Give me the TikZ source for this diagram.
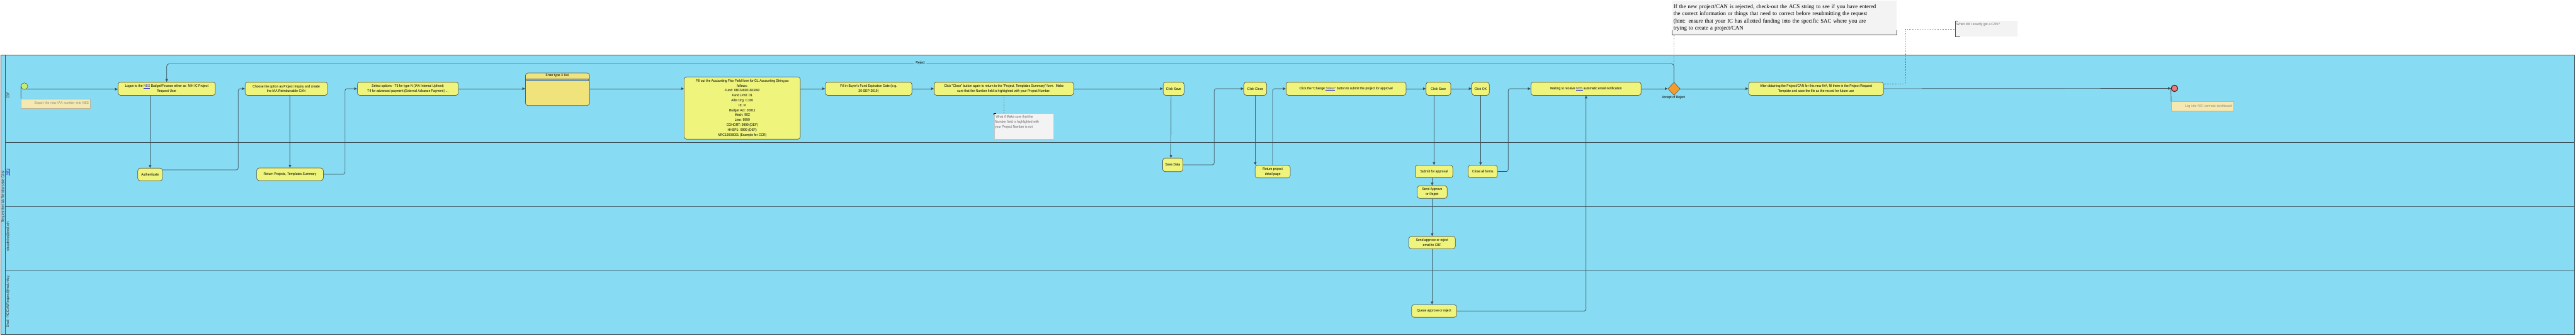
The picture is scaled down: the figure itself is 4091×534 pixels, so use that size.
\documentclass[tikz,border=0pt]{standalone}
\usepackage{fontspec}
\setmainfont{Liberation Sans}
\newfontfamily\tfam[FakeStretch=0.87]{Liberation Sans}
\newfontfamily\nfam[FakeStretch=0.96]{Liberation Serif}
\usetikzlibrary{arrows.meta,shapes.geometric,calc}
\definecolor{lanec}{HTML}{87DBF2}
\definecolor{taskc}{HTML}{EEF47C}
\definecolor{task2c}{HTML}{F1E37C}
\definecolor{bordc}{HTML}{55584A}
\definecolor{linec}{HTML}{3A4F5A}
\definecolor{gwc}{HTML}{F89B2E}
\definecolor{startc}{HTML}{C4EE72}
\definecolor{endc}{HTML}{F07A78}
\definecolor{notec}{HTML}{F5E8B0}
\definecolor{grayn}{HTML}{F3F3F3}
\definecolor{linkc}{HTML}{3333CC}
\definecolor{barc}{HTML}{7DB4C4}
\newcommand\tf{\tfam\fontsize{5.8}{7.8}\selectfont}
\newcommand\nf{\nfam\fontsize{9.2}{11.4}\selectfont}
\newcommand\lk[1]{\textcolor{linkc}{\underline{#1}}}
\tikzset{
  task/.style={draw=bordc, fill=taskc, rounded corners=4pt, line width=0.7pt, inner sep=0pt, align=center, font=\tf, text=black},
  arr/.style={draw=linec, line width=0.7pt, -{Triangle[length=4.5pt,width=4pt]}},
  ln/.style={draw=linec, line width=0.7pt},
  dotln/.style={draw=gray!80!black, line width=0.6pt, dotted},
  lanelbl/.style={font=\tf, text=black!80, inner sep=0pt, rotate=90, anchor=west},
  ynote/.style={draw=gray!50!notec, fill=notec, line width=0.5pt, inner ysep=0pt, inner xsep=2pt, font=\tf, text=black!45, align=right},
}
\begin{document}
\begin{tikzpicture}[x=1pt,y=-1pt]
\useasboundingbox (0,0) rectangle (4091,534);
\fill[white] (0,0) rectangle (4091,534);
% pool and lanes
\fill[lanec] (1.7,87) rectangle (4088.2,531);
\draw[linec, line width=0.9pt] (1.7,87) rectangle (4088.2,531);
\draw[linec, line width=0.9pt] (8.3,87) -- (8.3,531);
\draw[linec, line width=0.9pt] (8.3,226) -- (4088.2,226);
\draw[linec, line width=0.9pt] (8.3,328) -- (4088.2,328);
\draw[linec, line width=0.9pt] (8.3,430) -- (4088.2,430);
\node[lanelbl, anchor=center] (pool) at (5.1,313) {Request the IAA Reimbursable CAN};
\node[lanelbl] (l1) at (12.7,157) {CBF};
\node[lanelbl] (l2) at (12.7,279) {\lk{NBS}};
\node[lanelbl] (l3) at (12.7,400) {nbsadmins@mail.nih};
\node[lanelbl] (l4) at (12.7,521) {Email - NCICANRequest@mail.nih.g};

% top notes
\node[fill=grayn, anchor=north west, minimum width=355.8pt, minimum height=54.3pt, inner xsep=1.5pt, inner ysep=1pt, text width=352pt, align=left, font=\nf, text=black] (bignote) at (2655.7,1) {If the new project/CAN is rejected, check-out the ACS string to see if you have entered\\the correct information or things that need to correct before resubmitting the request\\(hint: ensure that your IC has allotted funding into the specific SAC where you are\\trying to create a project/CAN};
\draw[gray!60!black, line width=0.8pt] ([yshift=8pt]bignote.south west) -- (bignote.south west) -- (bignote.south east) -- ([yshift=8pt]bignote.south east);

\node[fill=grayn, anchor=north west, minimum width=97.9pt, minimum height=25pt, inner sep=0pt] (smallnote) at (3105.6,33.3) {};
\node[anchor=north west, font=\tf, text=black!55, inner sep=0pt] (smalltxt) at (3107,36) {When did I exactly get a CAN?};
\draw[gray!60!black, line width=0.6pt] ([xshift=4pt]smallnote.north west) -- (smallnote.north west) -- (smallnote.south west) -- ([xshift=7pt]smallnote.south west);

% lane 1 tasks
\node[circle, draw=bordc, fill=startc, minimum size=10.6pt, inner sep=0pt, line width=0.6pt] (start) at (38.8,137) {};
\node[ynote, minimum width=109.5pt, minimum height=15pt, text width=105.5pt] (note1) at (88.3,164.5) {Export the new IAA number into NBS};
\node[task, minimum width=154.5pt, minimum height=21pt] (logon) at (264.75,141) {Logon to the \lk{NBS} Budget/Finance either as\ \ NIH IC Project\\Request User};
\node[task, minimum width=130.7pt, minimum height=21pt] (choose) at (454.65,141) {Choose the option as Project Inquiry and create\\the IAA Reimbursable CAN};
\node[task, minimum width=160.6pt, minimum height=21pt] (select) at (647.7,141) {Select options\ - T5 for type N (IAA Internal Upfront)\\T4 for advanced payment (External Advance Payment) ...};
\node[task, fill=task2c, minimum width=101.8pt, minimum height=51.7pt] (entertype) at (885.3,141.85) {};
\node[font=\tf, inner sep=0pt] (ettl) at (885.3,119.7) {Enter type X IAA};
\node[draw=linec!80, fill=barc, minimum width=97.8pt, minimum height=3.3pt, inner sep=0pt, line width=0.4pt] (etbar) at (885.5,126.6) {};
\node[task, minimum width=184.4pt, minimum height=99pt] (fillout) at (1178.8,171.8) {Fill out the Accounting Flex Field form for GL Accounting String as\\follows:\\Fund: 08024920181RA0\\Fund Limit: 01\\Allot Org: C100\\IE: R\\Budget Act: 00011\\Mech: 902\\Line: 9999\\COHORT: 9999 (DEF)\\HHSP1: 9999 (DEF)\\NRC19008001 (Example for CCR)};
\node[task, minimum width=137.5pt, minimum height=21pt] (fillin) at (1379.45,141) {Fill in Buyer's Fund Expiration Date (e.g.\\30-SEP-2019)};
\node[task, minimum width=221.5pt, minimum height=21pt] (close1) at (1594.25,141) {Click "Close" button again to return to the "Project, Templates Summary" form.\ \ Make\\sure that the Number field is highlighted with your Project Number.};
\node[draw=gray!45, fill=grayn, anchor=north west, minimum width=94.6pt, minimum height=41.3pt, inner sep=0pt, line width=0.5pt] (note2) at (1578.6,180) {};
\node[anchor=north west, font=\tf, text=black!60, inner sep=0pt, align=left] (note2txt) at (1580,183.5) {\ What if Make sure that the\\Number field is highlighted with\\your Project Number is not};
\draw[black, line width=0.6pt] ([xshift=3pt]note2.north west) -- (note2.north west) -- ([yshift=-3pt]note2.north west);
\node[task, minimum width=33.1pt, minimum height=21pt] (save1) at (1863.85,141) {Click Save};
\node[task, minimum width=36.2pt, minimum height=21pt] (close2) at (1993.5,141) {Click Close};
\node[task, minimum width=190.6pt, minimum height=21pt] (status) at (2137.7,141) {Click the "Change \lk{Status}" button to submit the project for approval};
\node[task, minimum width=39.3pt, minimum height=21pt] (save2) at (2284.35,141) {Click Save};
\node[task, minimum width=27.7pt, minimum height=21pt] (ok) at (2351.35,141) {Click OK};
\node[task, minimum width=175pt, minimum height=21pt] (waiting) at (2518.8,141) {Waiting to receive \lk{NBS} automatic email notification};
\node[diamond, draw=bordc, fill=gwc, minimum width=19.3pt, minimum height=20.6pt, inner sep=0pt, line width=0.6pt] (gw) at (2658.5,141) {};
\node[font=\tf, inner sep=0pt] (gwlbl) at (2657.7,155.5) {Accept of Reject};
\node[task, minimum width=214.2pt, minimum height=21pt] (after) at (2884.1,141) {After obtaining the Project/CAN for this new IAA, fill them in the Project Request\\Template and save the file as the record for future use};
\node[circle, draw=black!85, fill=endc, minimum size=10.2pt, inner sep=0pt, line width=1.2pt] (end) at (3453.3,140.5) {};
\node[ynote, minimum width=99.2pt, minimum height=15pt, text width=93.2pt] (note3) at (3497.9,169.2) {Log into NCI connect dashboard};

% lane 2 tasks
\node[task, minimum width=39.3pt, minimum height=20pt] (auth) at (238.4,277.3) {Authenticate};
\node[task, minimum width=105.8pt, minimum height=20pt] (ret) at (460.5,277) {Return Projects, Templates Summary};
\node[task, minimum width=32.2pt, minimum height=21.4pt] (savedata) at (1862.5,262) {Save Data};
\node[task, minimum width=55.8pt, minimum height=20pt] (retdetail) at (2021.2,272.7) {Return project\\detail page};
\node[task, minimum width=59.7pt, minimum height=19.8pt] (submit) at (2277.35,272.6) {Submit for approval};
\node[task, minimum width=46.3pt, minimum height=19.8pt] (closeall) at (2354.85,272.6) {Close all forms};
\node[task, minimum width=47.6pt, minimum height=20pt] (sendapp) at (2274.5,305.3) {Send Approve\\or Reject};
% lane 3
\node[task, minimum width=74pt, minimum height=19.6pt] (sendmail) at (2274.3,385.5) {Send approve or reject\\email to CBF};
% lane 4
\node[task, minimum width=71.6pt, minimum height=20pt] (queue) at (2277.5,494.3) {Queue approve or reject};

% connectors
\draw[ln] (start.west) -- (note1.north west);
\draw[arr] (start.-58) -- (start.-58 -| logon.west);
\draw[arr] (auth.north |- logon.south) -- (auth.north);
\draw[arr, rounded corners=3pt] (auth.20) -| ([xshift=-10.7pt]choose.west) -- (choose.west);
\draw[arr] (ret.north |- choose.south) -- (ret.north);
\draw[arr, rounded corners=3pt] (ret.east) -| ([xshift=-19.2pt]select.west) -- (select.west);
\draw[arr] (select.east) -- (select.east -| entertype.west);
\draw[arr] (select.east -| entertype.east) -- (select.east -| fillout.west);
\draw[arr] (fillin.west -| fillout.east) -- (fillin.west);
\draw[arr] (fillin) -- (close1);
\draw[dotln] (close1.south) -- (close1.south |- note2.north);
\draw[arr] (close1) -- (save1);
\draw[arr] ([xshift=-4pt]save1.south) -- ([xshift=-3pt]savedata.north);
\draw[arr, rounded corners=3pt] (savedata.east) -| ([xshift=-46.8pt]close2.west) -- (close2.west);
\draw[arr] (close2.south) -- (close2.south |- retdetail.north);
\draw[arr, rounded corners=3pt] (retdetail.north) |- (status.west);
\draw[arr] (status) -- (save2);
\draw[arr] (submit.north |- save2.south) -- (submit.north);
\draw[arr] (save2) -- (ok);
\draw[arr] (ok.south) -- (ok.south |- closeall.north);
\draw[arr, rounded corners=3pt] (closeall.east) -| ([xshift=-35.8pt]waiting.west) -- (waiting.west);
\draw[arr] (sendapp.north |- submit.south) -- (sendapp.north);
\draw[arr] (sendapp.south) -- (sendapp.south |- sendmail.north);
\draw[arr] (sendmail.south) -- (sendmail.south |- queue.north);
\draw[arr, rounded corners=3pt] (queue.east) -| (waiting.south);
\draw[arr] (waiting) -- (gw);
\draw[arr, rounded corners=4pt] (gw.north) -- ++(0,-29) -| (logon.north);
\node[font=\tf, fill=lanec, inner xsep=2pt, inner ysep=1pt] (rejlbl) at (1461.6,100.5) {Reject};
\draw[dotln] (gw.north |- bignote.south) -- ++(0,46.4);
\draw[arr] (gw) -- (after);
\draw[dotln] ([yshift=7.7pt]after.east) -- ++(34.4,0) |- (smallnote.west);
\draw[arr] (after) -- (end);
\draw[ln] (end.west) -- (note3.north west);
\end{tikzpicture}
\end{document}
